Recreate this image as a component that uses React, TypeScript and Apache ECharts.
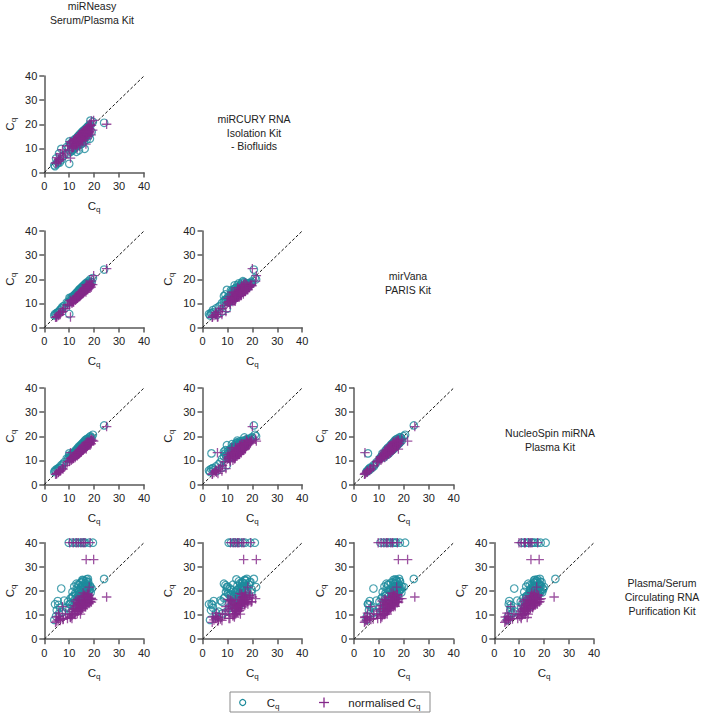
import React, { useEffect, useRef } from "react";
import * as echarts from "echarts";

// ---------------- DATA ----------------
const kitTitles = [
  "miRNeasy\nSerum/Plasma Kit",
  "miRCURY RNA\nIsolation Kit\n- Biofluids",
  "mirVana\nPARIS Kit",
  "NucleoSpin miRNA\nPlasma Kit",
  "Plasma/Serum\nCirculating RNA\nPurification Kit",
];

const tickValues = [0, 10, 20, 30, 40];
const identityLine = [
  [0, 0],
  [40, 40],
];
const seriesNames = ["Cq", "normalised Cq"];

// raw Cq per kit (same miRNA order in every array)
const cqMiRNeasy = [
  4.0, 4.3, 4.7, 5.0, 5.4, 5.9, 6.3, 6.8, 7.3, 8.0,
  9.0, 9.5, 10.1, 10.6, 11.0, 11.3, 11.7, 12.0, 12.3, 12.6,
  12.9, 13.1, 13.4, 13.6, 13.9, 14.1, 14.3, 14.6, 14.8, 15.0,
  15.2, 15.4, 15.6, 15.8, 16.0, 16.2, 16.4, 16.6, 16.8, 17.0,
  17.2, 17.4, 17.6, 17.8, 18.0, 18.3, 18.6, 19.0, 11.5, 12.8,
  13.8, 14.5, 15.3, 16.1, 16.9, 17.5, 10.8, 14.0, 24.0, 18.5,
  10.0, 9.8, 11.2, 12.4, 13.2, 14.3, 15.2, 15.9, 16.4, 18.0, 19.5,
  10.4, 11.2, 11.9, 12.4, 12.7, 13.0, 13.3, 13.5, 13.8, 14.0,
  14.2, 14.5, 14.7, 14.9, 15.1, 15.3, 15.5, 15.7, 15.9, 16.1,
  16.3, 16.5, 16.7, 16.9, 17.1, 17.3, 17.7, 18.2, 5.6, 7.0,
];
const cqMiRCURY = [
  3.0, 2.6, 5.8, 3.4, 4.5, 7.9, 4.2, 9.8, 6.5, 7.2,
  10.6, 7.8, 12.9, 8.6, 11.8, 9.4, 13.2, 10.1, 13.9, 10.8,
  8.6, 14.2, 11.5, 15.0, 9.2, 14.8, 12.3, 16.0, 13.0, 15.8,
  12.0, 16.6, 13.8, 17.4, 14.3, 9.8, 17.2, 15.1, 18.0, 13.6,
  18.6, 16.0, 19.2, 15.2, 17.6, 14.0, 19.6, 16.8, 12.6, 11.8,
  15.2, 13.4, 17.0, 14.8, 16.4, 17.8, 9.6, 14.6, 20.6, 21.5,
  3.6, 10.5, 12.6, 11.4, 14.2, 13.0, 16.2, 15.0, 17.1, 19.2, 21.0,
  11.9, 9.0, 12.6, 10.2, 13.4, 11.0, 14.6, 12.2, 11.4, 15.4,
  12.6, 16.2, 13.2, 11.8, 15.6, 13.9, 17.0, 14.1, 12.9, 16.9,
  15.4, 18.1, 14.6, 17.8, 15.9, 18.9, 16.2, 19.8, 4.0, 5.4,
];
const cqMirVana = [
  5.0, 5.6, 5.2, 6.0, 6.3, 6.6, 7.2, 7.8, 8.6, 9.0,
  10.4, 10.2, 12.3, 11.0, 12.6, 11.5, 13.0, 12.2, 13.6, 12.9,
  13.0, 14.3, 13.8, 14.9, 13.7, 15.2, 14.4, 15.8, 14.9, 15.7,
  15.0, 16.4, 15.8, 16.9, 16.1, 15.6, 17.0, 16.5, 17.6, 16.6,
  18.0, 17.2, 18.5, 17.4, 18.3, 17.6, 19.0, 18.8, 12.4, 13.5,
  14.6, 15.4, 15.9, 16.8, 17.3, 18.1, 11.6, 14.2, 24.0, 20.0,
  5.6, 10.6, 11.8, 13.0, 13.9, 14.6, 15.8, 16.5, 17.0, 18.4, 20.5,
  12.0, 11.4, 13.4, 12.6, 14.2, 13.1, 14.8, 13.6, 15.4, 14.3,
  15.9, 14.8, 16.3, 15.0, 16.8, 15.4, 17.1, 15.9, 17.5, 16.2,
  17.9, 16.6, 18.3, 17.0, 18.6, 17.5, 19.2, 18.4, 6.2, 7.9,
];
const cqNucleoSpin = [
  5.2, 5.8, 5.6, 6.4, 6.0, 7.0, 6.8, 8.0, 8.4, 9.2,
  10.8, 10.6, 12.0, 11.6, 12.4, 12.0, 13.2, 12.8, 13.4, 13.3,
  13.6, 14.0, 14.3, 14.6, 14.2, 15.0, 15.0, 15.5, 15.4, 16.0,
  15.6, 16.2, 16.4, 16.8, 16.7, 16.3, 17.2, 17.0, 17.5, 17.3,
  18.0, 17.8, 18.4, 18.0, 18.6, 18.2, 19.2, 19.5, 12.8, 13.8,
  14.4, 15.6, 16.2, 16.6, 17.6, 18.3, 11.9, 14.8, 24.5, 20.0,
  12.9, 11.0, 12.0, 13.2, 13.6, 15.0, 15.6, 16.3, 17.4, 18.6, 20.6,
  11.2, 12.8, 12.3, 14.0, 13.0, 14.6, 13.8, 15.2, 14.3, 15.8,
  14.6, 16.2, 15.2, 16.7, 15.6, 17.0, 16.0, 17.5, 16.4, 17.9,
  16.9, 18.4, 17.2, 18.8, 17.6, 19.0, 18.2, 19.6, 6.6, 7.5,
];
const cqPlasmaSerum = [
  8.0, 14.5, 9.5, 12.0, 15.8, 10.6, 13.0, 21.0, 11.4, 16.0,
  13.0, 15.5, 12.8, 17.0, 14.0, 19.6, 15.2, 21.8, 16.4, 18.2,
  23.0, 16.0, 20.4, 17.6, 22.4, 18.8, 15.6, 21.2, 19.4, 23.6,
  17.2, 22.0, 20.2, 24.2, 18.6, 21.6, 19.8, 23.2, 20.8, 24.8,
  22.6, 19.0, 23.8, 21.4, 20.0, 22.2, 19.4, 21.0, 17.8, 14.8,
  19.9, 16.8, 24.6, 17.4, 18.2, 25.0, 11.4, 13.8, 25.0, 21.6,
  14.6, 40, 40, 40, 40, 40, 40, 40, 40, 40, 40,
  14.6, 17.4, 13.6, 19.0, 15.8, 21.0, 16.6, 22.6, 18.4, 20.2,
  16.8, 23.4, 19.6, 17.6, 22.0, 19.0, 24.4, 20.6, 18.0, 23.0,
  21.2, 19.4, 24.0, 22.0, 20.4, 23.6, 21.8, 20.6, 14.2, 11.0,
];

// normalised Cq per kit
const normMiRNeasy = [
  4.5, 4.9, 5.0, 5.6, 5.7, 6.4, 6.6, 7.3, 7.6, 8.5,
  9.3, 10.0, 10.4, 11.1, 11.3, 11.8, 12.0, 12.5, 12.6, 13.1,
  13.2, 13.6, 13.7, 14.1, 14.2, 14.6, 14.6, 15.1, 15.1, 15.5,
  15.5, 15.9, 15.9, 16.3, 16.3, 16.7, 16.7, 17.1, 17.1, 17.5,
  17.5, 17.9, 17.9, 18.3, 18.3, 18.8, 18.9, 19.4, 11.9, 13.2,
  14.1, 15.0, 15.6, 16.6, 17.2, 18.0, 11.1, 14.5, 25.0, 18.9,
  10.5, 10.2, 11.6, 12.8, 13.6, 14.7, 15.6, 16.3, 16.8, 18.4, 19.8,
  10.8, 11.5, 12.4, 12.7, 13.2, 13.3, 13.8, 13.8, 14.3, 14.3,
  14.7, 14.8, 15.2, 15.2, 15.6, 15.6, 16.0, 16.0, 16.4, 16.4,
  16.8, 16.8, 17.2, 17.2, 17.6, 17.6, 18.2, 18.5, 6.0, 7.5,
];
const normMiRCURY = [
  3.9, 4.0, 6.2, 4.6, 5.6, 7.8, 5.3, 9.4, 7.2, 8.0,
  11.0, 9.0, 12.8, 9.9, 12.3, 10.6, 13.4, 11.3, 14.0, 12.0,
  10.2, 14.6, 12.6, 15.2, 11.0, 15.3, 13.4, 16.1, 14.0, 16.2,
  13.4, 16.8, 14.8, 17.4, 15.3, 11.8, 17.5, 16.0, 18.1, 15.0,
  18.7, 16.9, 19.1, 16.4, 18.0, 15.6, 19.5, 17.6, 13.2, 12.8,
  15.6, 14.4, 17.2, 15.6, 17.0, 18.2, 10.6, 15.2, 20.0, 21.3,
  6.0, 11.2, 13.1, 12.3, 14.6, 14.0, 16.6, 15.8, 16.5, 19.3, 21.6,
  12.2, 10.4, 13.0, 11.6, 13.8, 12.4, 14.9, 13.2, 12.8, 15.6,
  13.7, 16.4, 14.2, 13.2, 15.9, 14.8, 17.1, 15.1, 14.2, 17.0,
  16.0, 18.2, 15.7, 18.0, 16.7, 18.9, 17.1, 19.8, 5.2, 6.4,
];
const normMirVana = [
  4.2, 4.4, 4.5, 5.0, 5.4, 5.4, 6.3, 6.6, 7.7, 7.9,
  9.5, 9.1, 11.2, 10.1, 11.5, 10.6, 11.9, 11.3, 12.5, 12.0,
  12.1, 13.2, 12.9, 13.8, 12.8, 14.2, 13.5, 14.7, 14.0, 14.6,
  14.1, 15.3, 14.9, 15.8, 15.2, 14.7, 15.9, 15.6, 16.5, 15.7,
  16.9, 16.3, 17.4, 16.5, 17.2, 16.7, 17.9, 17.8, 11.5, 12.5,
  13.6, 14.5, 14.9, 15.8, 16.3, 17.1, 10.7, 13.3, 24.4, 19.2,
  4.4, 9.7, 10.9, 12.0, 13.0, 13.6, 14.8, 15.5, 17.8, 17.4, 21.5,
  10.8, 10.6, 12.3, 11.7, 13.1, 12.2, 13.9, 12.5, 14.5, 13.3,
  14.8, 13.9, 15.4, 14.0, 15.7, 14.5, 16.2, 14.8, 16.5, 15.3,
  16.8, 15.7, 17.4, 15.9, 17.5, 16.6, 18.3, 17.3, 5.3, 6.8,
];
const normNucleoSpin = [
  4.2, 4.4, 4.6, 5.0, 5.1, 5.6, 5.8, 6.6, 7.3, 7.9,
  9.4, 9.5, 10.7, 10.5, 11.2, 10.9, 11.9, 11.7, 12.3, 12.0,
  12.4, 12.8, 13.2, 13.3, 13.1, 13.8, 13.7, 14.3, 14.3, 14.7,
  14.5, 15.0, 15.2, 15.5, 15.6, 15.2, 16.0, 15.7, 16.3, 16.2,
  16.8, 16.5, 17.2, 16.8, 17.5, 16.9, 18.0, 18.3, 11.6, 12.6,
  13.2, 14.3, 15.0, 15.4, 16.5, 17.0, 10.8, 13.6, 24.0, 18.8,
  13.2, 9.9, 10.8, 12.1, 12.4, 13.8, 14.4, 15.1, 14.7, 17.4, 18.0,
  10.1, 11.5, 11.2, 12.7, 11.9, 13.5, 12.5, 14.1, 13.2, 14.5,
  13.4, 15.0, 14.1, 15.4, 14.4, 15.9, 14.7, 16.3, 15.3, 16.6,
  15.6, 17.3, 16.0, 17.5, 16.5, 17.8, 17.0, 18.3, 5.5, 6.4,
];
const normPlasmaSerum = [
  7.0, 9.2, 7.5, 8.0, 10.8, 7.8, 8.6, 13.5, 8.4, 10.6,
  8.6, 10.2, 9.2, 11.6, 10.0, 13.8, 10.6, 15.8, 11.4, 12.8,
  16.5, 11.6, 14.6, 12.8, 16.2, 13.6, 11.8, 15.4, 14.0, 17.4,
  12.8, 16.2, 14.8, 18.2, 14.0, 16.0, 15.0, 17.6, 15.6, 19.0,
  17.2, 14.8, 18.4, 16.4, 15.6, 17.0, 15.4, 16.4, 12.8, 10.6,
  14.6, 12.6, 19.2, 13.4, 14.2, 21.6, 8.6, 10.4, 17.5, 16.8,
  9.0, 40, 40, 40, 40, 40, 40, 40, 33, 40, 33,
  9.6, 12.4, 10.2, 13.8, 11.6, 15.2, 12.0, 16.4, 13.0, 14.8,
  12.6, 17.2, 14.4, 13.0, 16.2, 14.0, 18.0, 15.2, 13.6, 17.4,
  15.8, 14.6, 18.6, 16.6, 15.4, 18.2, 16.8, 15.6, 9.4, 8.2,
];

const rawByKit = [cqMiRNeasy, cqMiRCURY, cqMirVana, cqNucleoSpin, cqPlasmaSerum];
const normByKit = [normMiRNeasy, normMiRCURY, normMirVana, normNucleoSpin, normPlasmaSerum];

// ---------------- STYLE / LAYOUT ----------------
const FONT = "'Liberation Sans', Arial, Helvetica, sans-serif";
const TEAL = "#1d8b9c";
const PURPLE = "#84288a";
const AXIS = "#5a5a5a";
const TEXT = "#222";
const PLUS = "path://M0,5L10,5M5,0L5,10";

const colLeft = [44.3, 202.5, 354, 494.3];
const rowTop = [76, 231, 388, 542.7];
const plotW = 99.7;
const plotH = 96.5;
const titlePos = [
  [92, 12.7],
  [254, 132.7],
  [408, 283],
  [550, 439.7],
  [662, 597],
];

const cqRich = {
  a: { fontSize: 11.5, fontFamily: FONT, color: TEXT },
  b: { fontSize: 8, fontFamily: FONT, color: TEXT, padding: [7, 0, 0, 0] },
};

function buildOption() {
  const grid: any[] = [];
  const xAxis: any[] = [];
  const yAxis: any[] = [];
  const series: any[] = [];
  const minV = tickValues[0];
  const maxV = tickValues[tickValues.length - 1];
  const step = tickValues[1] - tickValues[0];

  const axisCommon = {
    type: "value",
    min: minV,
    max: maxV,
    interval: step,
    splitLine: { show: false },
    axisLine: { show: true, onZero: false, lineStyle: { color: AXIS, width: 1.5 } },
    axisTick: { show: true, length: 5, lineStyle: { color: AXIS, width: 1.5 } },
    name: "{a|C}{b|q}",
    nameLocation: "middle",
    nameTextStyle: { rich: cqRich },
  };

  let idx = 0;
  for (let r = 0; r < 4; r++) {
    for (let c = 0; c <= r; c++) {
      const xk = c;
      const yk = r + 1;
      grid.push({ left: colLeft[c], top: rowTop[r], width: plotW, height: plotH });
      xAxis.push({
        ...axisCommon,
        gridIndex: idx,
        position: "bottom",
        nameGap: 26,
        axisLabel: { color: TEXT, fontSize: 11, fontFamily: FONT, margin: 8 },
      });
      yAxis.push({
        ...axisCommon,
        gridIndex: idx,
        position: "left",
        nameRotate: 90,
        nameGap: 27,
        axisLabel: { color: TEXT, fontSize: 11, fontFamily: FONT, margin: 7 },
      });
      series.push({
        type: "line",
        xAxisIndex: idx,
        yAxisIndex: idx,
        data: identityLine,
        symbol: "none",
        silent: true,
        z: 1,
        lineStyle: { color: "#111", width: 1, type: [3, 2] },
      });
      series.push({
        type: "scatter",
        name: seriesNames[0],
        xAxisIndex: idx,
        yAxisIndex: idx,
        data: rawByKit[xk].map((v, j) => [v, rawByKit[yk][j]]),
        symbol: "circle",
        symbolSize: 7.5,
        z: 2,
        itemStyle: { color: "transparent", borderColor: TEAL, borderWidth: 1.2 },
      });
      series.push({
        type: "scatter",
        name: seriesNames[1],
        xAxisIndex: idx,
        yAxisIndex: idx,
        data: normByKit[xk].map((v, j) => [v, normByKit[yk][j]]),
        symbol: PLUS,
        symbolSize: 9.5,
        z: 3,
        itemStyle: { color: "transparent", borderColor: PURPLE, borderWidth: 1.3 },
      });
      idx++;
    }
  }

  const graphic: any[] = kitTitles.map((t, i) => ({
    type: "text",
    x: titlePos[i][0],
    y: titlePos[i][1],
    style: {
      text: t,
      fill: TEXT,
      font: `10.5px ${FONT}`,
      lineHeight: 13.7,
      textAlign: "center",
      textVerticalAlign: "middle",
    },
  }));

  const legY = 702.5;
  const legRich = {
    a: { fontSize: 11.5, fontFamily: FONT, fill: TEXT, color: TEXT },
    b: { fontSize: 8, fontFamily: FONT, fill: TEXT, color: TEXT, padding: [7, 0, 0, 0] },
  };
  graphic.push(
    {
      type: "rect",
      shape: { x: 230, y: 692, width: 200, height: 20 },
      style: { fill: "none", stroke: "#8a8a8a", lineWidth: 1 },
    },
    {
      type: "circle",
      shape: { cx: 242.7, cy: legY, r: 3 },
      style: { fill: "none", stroke: TEAL, lineWidth: 1.2 },
    },
    {
      type: "text",
      x: 266.7,
      y: legY,
      style: { text: "{a|C}{b|q}", rich: legRich, textVerticalAlign: "middle" },
    },
    {
      type: "line",
      shape: { x1: 319, y1: legY, x2: 329, y2: legY },
      style: { stroke: PURPLE, lineWidth: 1.3 },
    },
    {
      type: "line",
      shape: { x1: 324, y1: legY - 5, x2: 324, y2: legY + 5 },
      style: { stroke: PURPLE, lineWidth: 1.3 },
    },
    {
      type: "text",
      x: 348.3,
      y: legY,
      style: { text: "{a|normalised C}{b|q}", rich: legRich, textVerticalAlign: "middle" },
    }
  );

  return {
    animation: false,
    backgroundColor: "#fff",
    textStyle: { fontFamily: FONT },
    grid,
    xAxis,
    yAxis,
    series,
    graphic,
  };
}

export default function App() {
  const ref = useRef<HTMLDivElement>(null);
  useEffect(() => {
    if (!ref.current) return;
    const chart = echarts.init(ref.current, null, { renderer: "svg" });
    chart.setOption(buildOption() as any);
    return () => chart.dispose();
  }, []);
  return (
    <div
      ref={ref}
      style={{ position: "fixed", left: 0, top: 0, width: 701, height: 713, background: "#fff" }}
    />
  );
}
